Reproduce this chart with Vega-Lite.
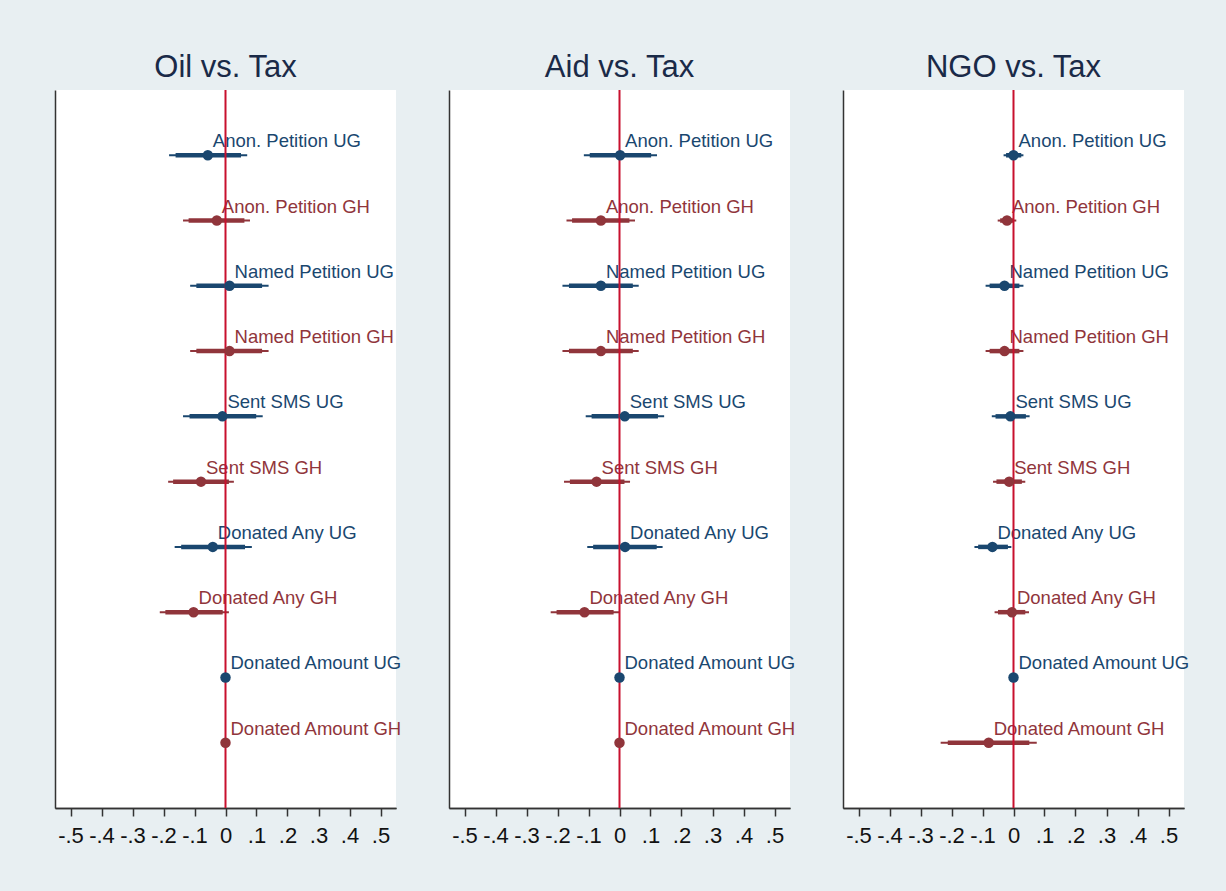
{
  "$schema": "https://vega.github.io/schema/vega-lite/v6.json",
  "background": "#e8eff2",
  "padding": {"left": 55, "top": 52, "right": 40, "bottom": 46},
  "data": {"values": [
    {"panel": "Oil vs. Tax", "row": 1, "label": "Anon. Petition UG", "grp": "UG", "b": -0.057, "lo95": -0.182, "hi95": 0.070, "lo90": -0.161, "hi90": 0.050},
    {"panel": "Oil vs. Tax", "row": 2, "label": "Anon. Petition GH", "grp": "GH", "b": -0.028, "lo95": -0.137, "hi95": 0.079, "lo90": -0.119, "hi90": 0.061},
    {"panel": "Oil vs. Tax", "row": 3, "label": "Named Petition UG", "grp": "UG", "b": 0.013, "lo95": -0.114, "hi95": 0.139, "lo90": -0.094, "hi90": 0.118},
    {"panel": "Oil vs. Tax", "row": 4, "label": "Named Petition GH", "grp": "GH", "b": 0.013, "lo95": -0.114, "hi95": 0.139, "lo90": -0.094, "hi90": 0.118},
    {"panel": "Oil vs. Tax", "row": 5, "label": "Sent SMS UG", "grp": "UG", "b": -0.010, "lo95": -0.137, "hi95": 0.120, "lo90": -0.116, "hi90": 0.099},
    {"panel": "Oil vs. Tax", "row": 6, "label": "Sent SMS GH", "grp": "GH", "b": -0.079, "lo95": -0.185, "hi95": 0.027, "lo90": -0.169, "hi90": 0.011},
    {"panel": "Oil vs. Tax", "row": 7, "label": "Donated Any UG", "grp": "UG", "b": -0.041, "lo95": -0.164, "hi95": 0.085, "lo90": -0.143, "hi90": 0.063},
    {"panel": "Oil vs. Tax", "row": 8, "label": "Donated Any GH", "grp": "GH", "b": -0.103, "lo95": -0.212, "hi95": 0.011, "lo90": -0.194, "hi90": -0.009},
    {"panel": "Oil vs. Tax", "row": 9, "label": "Donated Amount UG", "grp": "UG", "b": 0.0, "lo95": null, "hi95": null, "lo90": null, "hi90": null},
    {"panel": "Oil vs. Tax", "row": 10, "label": "Donated Amount GH", "grp": "GH", "b": 0.0, "lo95": null, "hi95": null, "lo90": null, "hi90": null},
    {"panel": "Aid vs. Tax", "row": 1, "label": "Anon. Petition UG", "grp": "UG", "b": 0.002, "lo95": -0.115, "hi95": 0.121, "lo90": -0.096, "hi90": 0.102},
    {"panel": "Aid vs. Tax", "row": 2, "label": "Anon. Petition GH", "grp": "GH", "b": -0.060, "lo95": -0.171, "hi95": 0.050, "lo90": -0.153, "hi90": 0.032},
    {"panel": "Aid vs. Tax", "row": 3, "label": "Named Petition UG", "grp": "UG", "b": -0.060, "lo95": -0.184, "hi95": 0.062, "lo90": -0.163, "hi90": 0.043},
    {"panel": "Aid vs. Tax", "row": 4, "label": "Named Petition GH", "grp": "GH", "b": -0.060, "lo95": -0.184, "hi95": 0.062, "lo90": -0.163, "hi90": 0.043},
    {"panel": "Aid vs. Tax", "row": 5, "label": "Sent SMS UG", "grp": "UG", "b": 0.017, "lo95": -0.109, "hi95": 0.144, "lo90": -0.090, "hi90": 0.124},
    {"panel": "Aid vs. Tax", "row": 6, "label": "Sent SMS GH", "grp": "GH", "b": -0.074, "lo95": -0.179, "hi95": 0.034, "lo90": -0.160, "hi90": 0.016},
    {"panel": "Aid vs. Tax", "row": 7, "label": "Donated Any UG", "grp": "UG", "b": 0.018, "lo95": -0.104, "hi95": 0.139, "lo90": -0.085, "hi90": 0.120},
    {"panel": "Aid vs. Tax", "row": 8, "label": "Donated Any GH", "grp": "GH", "b": -0.113, "lo95": -0.222, "hi95": 0.000, "lo90": -0.203, "hi90": -0.019},
    {"panel": "Aid vs. Tax", "row": 9, "label": "Donated Amount UG", "grp": "UG", "b": 0.0, "lo95": null, "hi95": null, "lo90": null, "hi90": null},
    {"panel": "Aid vs. Tax", "row": 10, "label": "Donated Amount GH", "grp": "GH", "b": 0.0, "lo95": null, "hi95": null, "lo90": null, "hi90": null},
    {"panel": "NGO vs. Tax", "row": 1, "label": "Anon. Petition UG", "grp": "UG", "b": 0.000, "lo95": -0.032, "hi95": 0.032, "lo90": -0.024, "hi90": 0.025},
    {"panel": "NGO vs. Tax", "row": 2, "label": "Anon. Petition GH", "grp": "GH", "b": -0.021, "lo95": -0.051, "hi95": 0.009, "lo90": -0.043, "hi90": 0.000},
    {"panel": "NGO vs. Tax", "row": 3, "label": "Named Petition UG", "grp": "UG", "b": -0.029, "lo95": -0.090, "hi95": 0.032, "lo90": -0.077, "hi90": 0.019},
    {"panel": "NGO vs. Tax", "row": 4, "label": "Named Petition GH", "grp": "GH", "b": -0.029, "lo95": -0.090, "hi95": 0.032, "lo90": -0.077, "hi90": 0.019},
    {"panel": "NGO vs. Tax", "row": 5, "label": "Sent SMS UG", "grp": "UG", "b": -0.010, "lo95": -0.070, "hi95": 0.052, "lo90": -0.058, "hi90": 0.040},
    {"panel": "NGO vs. Tax", "row": 6, "label": "Sent SMS GH", "grp": "GH", "b": -0.014, "lo95": -0.066, "hi95": 0.038, "lo90": -0.055, "hi90": 0.027},
    {"panel": "NGO vs. Tax", "row": 7, "label": "Donated Any UG", "grp": "UG", "b": -0.068, "lo95": -0.126, "hi95": -0.007, "lo90": -0.114, "hi90": -0.018},
    {"panel": "NGO vs. Tax", "row": 8, "label": "Donated Any GH", "grp": "GH", "b": -0.005, "lo95": -0.061, "hi95": 0.050, "lo90": -0.050, "hi90": 0.038},
    {"panel": "NGO vs. Tax", "row": 9, "label": "Donated Amount UG", "grp": "UG", "b": 0.0, "lo95": null, "hi95": null, "lo90": null, "hi90": null},
    {"panel": "NGO vs. Tax", "row": 10, "label": "Donated Amount GH", "grp": "GH", "b": -0.080, "lo95": -0.235, "hi95": 0.075, "lo90": -0.212, "hi90": 0.051}
  ]},
  "spacing": 53,
  "bounds": "flush",
  "hconcat": [
    {
      "title": "Oil vs. Tax",
      "width": 341, "height": 718,
      "transform": [{"filter": "datum.panel == 'Oil vs. Tax'"}],
      "resolve": {"axis": {"x": "independent"}},
      "layer": [
        {"transform": [{"filter": "isValid(datum.lo95)"}], "mark": {"type": "rule", "strokeWidth": 2, "strokeCap": "butt"},
         "encoding": {"x": {"field": "lo95", "type": "quantitative", "scale": {"domain": [-0.55, 0.55], "nice": false, "zero": false},
                            "axis": {"orient": "bottom", "values": [-0.5, -0.3, -0.1, 0.1, 0.3, 0.5], "labelExpr": "datum.value == 0 ? '0' : replace(replace(format(datum.value, '.1f'), '0.', '.'), '\u2212', '-')", "title": null}},
                      "x2": {"field": "hi95"},
                      "y": {"field": "row", "type": "quantitative", "scale": {"domain": [0, 11], "reverse": true, "nice": false, "zero": false}, "axis": {"labels": false, "ticks": false, "grid": false, "title": null}},
                      "color": {"field": "grp", "type": "nominal", "scale": {"domain": ["UG", "GH"], "range": ["#1a476f", "#90353b"]}, "legend": null}}},
        {"transform": [{"filter": "isValid(datum.lo90)"}], "mark": {"type": "rule", "strokeWidth": 4.5, "strokeCap": "butt"},
         "encoding": {"x": {"field": "lo90", "type": "quantitative", "axis": null}, "x2": {"field": "hi90"}, "y": {"field": "row", "type": "quantitative"}, "color": {"field": "grp", "type": "nominal", "legend": null}}},
        {"mark": {"type": "text", "align": "left", "baseline": "alphabetic", "dx": 5, "dy": -8, "fontSize": 18.5, "font": "Liberation Sans"},
         "encoding": {"x": {"field": "b", "type": "quantitative", "axis": null}, "y": {"field": "row", "type": "quantitative"}, "text": {"field": "label"}, "color": {"field": "grp", "type": "nominal", "legend": null}}},
        {"transform": [{"filter": "datum.row == 1"}], "mark": {"type": "rule", "color": "#c8102e", "strokeWidth": 2}, "encoding": {"x": {"datum": 0, "type": "quantitative", "axis": null}}},
        {"mark": {"type": "point", "shape": "circle", "filled": true, "opacity": 1, "size": 110},
         "encoding": {"x": {"field": "b", "type": "quantitative",
                            "axis": {"orient": "bottom", "values": [-0.4, -0.2, 0, 0.2, 0.4], "labelExpr": "datum.value == 0 ? '0' : replace(replace(format(datum.value, '.1f'), '0.', '.'), '\u2212', '-')", "title": null}},
                      "y": {"field": "row", "type": "quantitative"}, "color": {"field": "grp", "type": "nominal", "legend": null}}}
      ]
    },
    {
      "title": "Aid vs. Tax",
      "width": 341, "height": 718,
      "transform": [{"filter": "datum.panel == 'Aid vs. Tax'"}],
      "resolve": {"axis": {"x": "independent"}},
      "layer": [
        {"transform": [{"filter": "isValid(datum.lo95)"}], "mark": {"type": "rule", "strokeWidth": 2, "strokeCap": "butt"},
         "encoding": {"x": {"field": "lo95", "type": "quantitative", "scale": {"domain": [-0.55, 0.55], "nice": false, "zero": false},
                            "axis": {"orient": "bottom", "values": [-0.5, -0.3, -0.1, 0.1, 0.3, 0.5], "labelExpr": "datum.value == 0 ? '0' : replace(replace(format(datum.value, '.1f'), '0.', '.'), '\u2212', '-')", "title": null}},
                      "x2": {"field": "hi95"},
                      "y": {"field": "row", "type": "quantitative", "scale": {"domain": [0, 11], "reverse": true, "nice": false, "zero": false}, "axis": {"labels": false, "ticks": false, "grid": false, "title": null}},
                      "color": {"field": "grp", "type": "nominal", "scale": {"domain": ["UG", "GH"], "range": ["#1a476f", "#90353b"]}, "legend": null}}},
        {"transform": [{"filter": "isValid(datum.lo90)"}], "mark": {"type": "rule", "strokeWidth": 4.5, "strokeCap": "butt"},
         "encoding": {"x": {"field": "lo90", "type": "quantitative", "axis": null}, "x2": {"field": "hi90"}, "y": {"field": "row", "type": "quantitative"}, "color": {"field": "grp", "type": "nominal", "legend": null}}},
        {"mark": {"type": "text", "align": "left", "baseline": "alphabetic", "dx": 5, "dy": -8, "fontSize": 18.5, "font": "Liberation Sans"},
         "encoding": {"x": {"field": "b", "type": "quantitative", "axis": null}, "y": {"field": "row", "type": "quantitative"}, "text": {"field": "label"}, "color": {"field": "grp", "type": "nominal", "legend": null}}},
        {"transform": [{"filter": "datum.row == 1"}], "mark": {"type": "rule", "color": "#c8102e", "strokeWidth": 2}, "encoding": {"x": {"datum": 0, "type": "quantitative", "axis": null}}},
        {"mark": {"type": "point", "shape": "circle", "filled": true, "opacity": 1, "size": 110},
         "encoding": {"x": {"field": "b", "type": "quantitative",
                            "axis": {"orient": "bottom", "values": [-0.4, -0.2, 0, 0.2, 0.4], "labelExpr": "datum.value == 0 ? '0' : replace(replace(format(datum.value, '.1f'), '0.', '.'), '\u2212', '-')", "title": null}},
                      "y": {"field": "row", "type": "quantitative"}, "color": {"field": "grp", "type": "nominal", "legend": null}}}
      ]
    },
    {
      "title": "NGO vs. Tax",
      "width": 341, "height": 718,
      "transform": [{"filter": "datum.panel == 'NGO vs. Tax'"}],
      "resolve": {"axis": {"x": "independent"}},
      "layer": [
        {"transform": [{"filter": "isValid(datum.lo95)"}], "mark": {"type": "rule", "strokeWidth": 2, "strokeCap": "butt"},
         "encoding": {"x": {"field": "lo95", "type": "quantitative", "scale": {"domain": [-0.55, 0.55], "nice": false, "zero": false},
                            "axis": {"orient": "bottom", "values": [-0.5, -0.3, -0.1, 0.1, 0.3, 0.5], "labelExpr": "datum.value == 0 ? '0' : replace(replace(format(datum.value, '.1f'), '0.', '.'), '\u2212', '-')", "title": null}},
                      "x2": {"field": "hi95"},
                      "y": {"field": "row", "type": "quantitative", "scale": {"domain": [0, 11], "reverse": true, "nice": false, "zero": false}, "axis": {"labels": false, "ticks": false, "grid": false, "title": null}},
                      "color": {"field": "grp", "type": "nominal", "scale": {"domain": ["UG", "GH"], "range": ["#1a476f", "#90353b"]}, "legend": null}}},
        {"transform": [{"filter": "isValid(datum.lo90)"}], "mark": {"type": "rule", "strokeWidth": 4.5, "strokeCap": "butt"},
         "encoding": {"x": {"field": "lo90", "type": "quantitative", "axis": null}, "x2": {"field": "hi90"}, "y": {"field": "row", "type": "quantitative"}, "color": {"field": "grp", "type": "nominal", "legend": null}}},
        {"mark": {"type": "text", "align": "left", "baseline": "alphabetic", "dx": 5, "dy": -8, "fontSize": 18.5, "font": "Liberation Sans"},
         "encoding": {"x": {"field": "b", "type": "quantitative", "axis": null}, "y": {"field": "row", "type": "quantitative"}, "text": {"field": "label"}, "color": {"field": "grp", "type": "nominal", "legend": null}}},
        {"transform": [{"filter": "datum.row == 1"}], "mark": {"type": "rule", "color": "#c8102e", "strokeWidth": 2}, "encoding": {"x": {"datum": 0, "type": "quantitative", "axis": null}}},
        {"mark": {"type": "point", "shape": "circle", "filled": true, "opacity": 1, "size": 110},
         "encoding": {"x": {"field": "b", "type": "quantitative",
                            "axis": {"orient": "bottom", "values": [-0.4, -0.2, 0, 0.2, 0.4], "labelExpr": "datum.value == 0 ? '0' : replace(replace(format(datum.value, '.1f'), '0.', '.'), '\u2212', '-')", "title": null}},
                      "y": {"field": "row", "type": "quantitative"}, "color": {"field": "grp", "type": "nominal", "legend": null}}}
      ]
    }
  ],
  "config": {
    "view": {"fill": "white", "stroke": null},
    "title": {"fontSize": 31, "font": "Liberation Sans", "fontWeight": "normal", "color": "#1a2a48", "anchor": "middle", "offset": 5},
    "axis": {"grid": false, "domainColor": "#333333", "domainWidth": 1.5, "tickColor": "#333333", "tickWidth": 1.5},
    "axisX": {"tickSize": 8, "labelPadding": 9, "labelFontSize": 22, "labelFont": "Liberation Sans", "labelColor": "#111111", "labelFlush": false, "labelBound": false},
    "axisY": {"labels": false, "ticks": false, "title": null}
  }
}
